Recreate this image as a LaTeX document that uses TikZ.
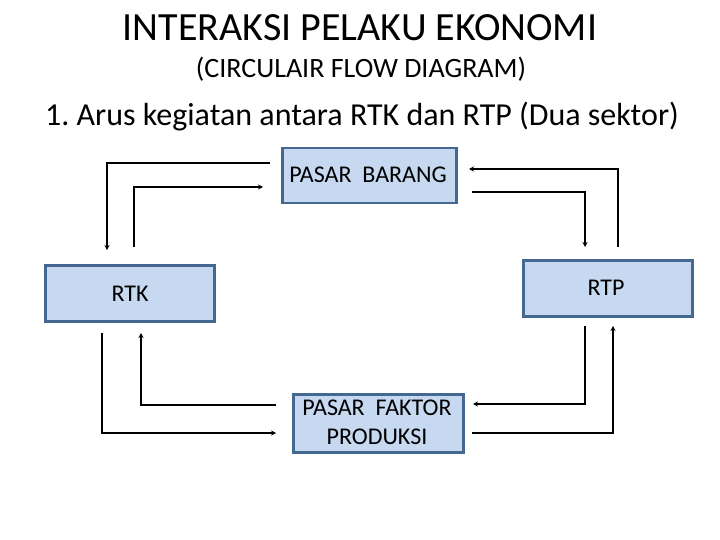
\documentclass[tikz,border=0pt]{standalone}
\usepackage{fontspec}
\setmainfont{Carlito}
\usetikzlibrary{arrows.meta}
\definecolor{boxfill}{HTML}{C6D9F1}
\definecolor{boxline}{HTML}{456890}
\frenchspacing
\begin{document}
\begin{tikzpicture}[x=1pt,y=-1pt,
  box/.style={draw=boxline,line width=2.5pt,fill=boxfill,inner sep=0pt,anchor=north west},
  flow/.style={line width=1.6pt,-{Stealth[length=5pt,width=5pt]}},
  lbl/.style={font=\fontsize{24}{29}\selectfont,align=center}]
\useasboundingbox (0,0) rectangle (720,540);
\node (t1) at (360,28) {\fontsize{40}{44}\selectfont INTERAKSI PELAKU EKONOMI};
\node (t2) at (361,69) {\fontsize{28}{32}\selectfont (CIRCULAIR FLOW DIAGRAM)};
\node (t3) at (362,117) {\fontsize{32}{36}\selectfont 1. Arus kegiatan antara RTK dan RTP (Dua sektor)};
% boxes
\node[box,minimum width=174pt,minimum height=55pt] (pb) at (281,147) {};
\node[lbl] (pbt) at (368,175) {PASAR\ \ BARANG};
\node[box,minimum width=169pt,minimum height=56pt] (rtk) at (44,264) {};
\node[lbl] (rtkt) at (130,294) {RTK};
\node[box,minimum width=169pt,minimum height=56pt] (rtp) at (522,259) {};
\node[lbl] (rtpt) at (606,288) {RTP};
\node[box,minimum width=170pt,minimum height=58pt] (pf) at (292,393) {};
\node[lbl] (pft) at (377,422) {PASAR\ \ FAKTOR\\PRODUKSI};
% coordinates
\coordinate (a1) at (270,163);
\coordinate (a2) at (107,163);
\coordinate (a3) at (107,250);
\coordinate (b1) at (134,247);
\coordinate (b2) at (134,187);
\coordinate (b3) at (263,187);
\coordinate (c1) at (618,247);
\coordinate (c2) at (618,169);
\coordinate (c3) at (469,169);
\coordinate (d1) at (472,192);
\coordinate (d2) at (585,192);
\coordinate (d3) at (585,247);
\coordinate (e1) at (102,333);
\coordinate (e2) at (102,433);
\coordinate (e3) at (276,433);
\coordinate (f1) at (276,405);
\coordinate (f2) at (141,405);
\coordinate (f3) at (141,333);
\coordinate (g1) at (585,326);
\coordinate (g2) at (585,404);
\coordinate (g3) at (473,404);
\coordinate (h1) at (472,433);
\coordinate (h2) at (613,433);
\coordinate (h3) at (613,326);
\draw[flow] (a1) -- (a2) -- (a3);
\draw[flow] (b1) -- (b2) -- (b3);
\draw[flow] (c1) -- (c2) -- (c3);
\draw[flow] (d1) -- (d2) -- (d3);
\draw[flow] (e1) -- (e2) -- (e3);
\draw[flow] (f1) -- (f2) -- (f3);
\draw[flow] (g1) -- (g2) -- (g3);
\draw[flow] (h1) -- (h2) -- (h3);
\end{tikzpicture}
\end{document}
